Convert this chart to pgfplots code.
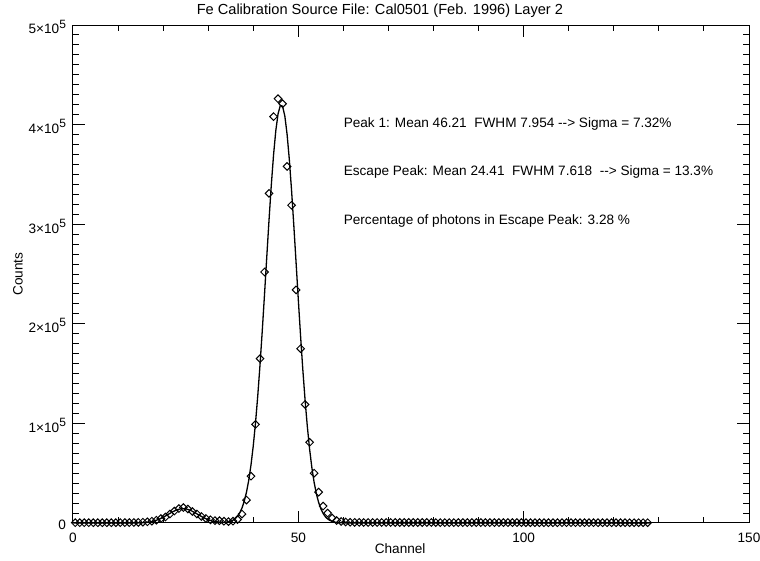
\documentclass[border=0pt]{standalone}
\usepackage{fontspec}
\setmainfont{Liberation Sans}
\usepackage{pgfplots}
\usepackage{pgfplotstable}
\pgfplotsset{compat=1.18}
\newcommand{\ef}[1]{#1×10\raisebox{0.8ex}{\fontsize{6pt}{6pt}\selectfont 5}}
\pgfplotstableread{
x y
0.5 300
1.5 300
2.5 300
3.5 300
4.5 300
5.5 300
6.5 300
7.5 300
8.5 300
9.5 300
10.5 400
11.5 400
12.5 400
13.5 500
14.5 600
15.5 800
16.5 1200
17.5 1800
18.5 2800
19.5 4500
20.5 6000
21.5 9000
22.5 12000
23.5 14500
24.5 15500
25.5 14000
26.5 11500
27.5 9000
28.5 6500
29.5 4500
30.5 3200
31.5 2400
32.5 2300
33.5 1800
34.5 1400
35.5 1800
36.5 3500
37.5 9000
38.5 23000
39.5 47000
40.5 99000
41.5 165000
42.5 252000
43.5 331000
44.5 408000
45.5 426000
46.5 421000
47.5 358000
48.5 319000
49.5 234000
50.5 175000
51.5 119000
52.5 81000
53.5 50000
54.5 31000
55.5 17000
56.5 10000
57.5 5000
58.5 2500
59.5 1500
60.5 1000
61.5 700
62.5 600
63.5 600
64.5 500
65.5 500
66.5 500
67.5 500
68.5 500
69.5 500
70.5 500
71.5 500
72.5 500
73.5 500
74.5 500
75.5 500
76.5 500
77.5 500
78.5 500
79.5 500
80.5 400
81.5 400
82.5 400
83.5 400
84.5 400
85.5 400
86.5 400
87.5 400
88.5 400
89.5 400
90.5 400
91.5 400
92.5 400
93.5 400
94.5 400
95.5 400
96.5 400
97.5 400
98.5 400
99.5 400
100.5 300
101.5 300
102.5 300
103.5 300
104.5 300
105.5 300
106.5 300
107.5 300
108.5 300
109.5 300
110.5 300
111.5 300
112.5 300
113.5 300
114.5 300
115.5 300
116.5 300
117.5 300
118.5 300
119.5 300
120.5 300
121.5 300
122.5 300
123.5 300
124.5 300
125.5 300
126.5 300
127.5 300
}\datapts
\pgfplotstableread{
x y
0 0
12 0
13 40
14 80
15 210
16 490
17 1050
18 2040
19 3580
20 5730
21 8320
22 10990
23 13190
24 14380
25 14260
26 12850
27 10520
28 7830
29 5300
30 3260
31 1820
32 1000
33 630
34 780
35 1770
35.5 2800
36 4400
36.5 6740
37 10200
37.5 15100
38 21900
38.5 31000
39 43000
39.5 58400
40 77500
40.5 100600
41 127900
41.5 158900
42 193200
42.5 229800
43 267400
43.5 304500
44 339100
44.5 369500
45 393900
45.5 410800
46 419200
46.5 418500
47 408700
47.5 390500
48 365000
48.5 333800
49 298600
49.5 261400
50 223900
50.5 187500
51 153700
51.5 123200
52 96700
52.5 74200
53 55700
53.5 40900
54 29400
54.5 20700
55 14200
55.5 9600
56 6300
56.5 4060
57 2600
58 950
59 300
60 100
62 0
128 0
}\fitcurve
\begin{document}
\begin{tikzpicture}
\begin{axis}[
  scale only axis, width=338pt, height=249pt,
  xmin=0, xmax=150, ymin=0, ymax=500000,
  clip=false,
  xtick={0,50,100,150}, xticklabels={0,50,100,150},
  minor x tick num=4,
  ytick={0,100000,200000,300000,400000,500000},
  yticklabels={0,\ef{1},\ef{2},\ef{3},\ef{4},\ef{5}},
  minor y tick num=9,
  scaled y ticks=false,
  major tick length=6pt, minor tick length=3pt,
  tick style={black, line width=0.5pt},
  axis line style={line width=0.5pt},
  font=\fontsize{6.8pt}{8pt}\selectfont,
  xticklabel style={anchor=center, yshift=-7.5pt},
  yticklabel style={yshift=-1pt},
  every axis title shift=0pt,
  title={Fe Calibration Source File: Cal0501 (Feb. 1996) Layer 2},
  title style={at={(axis description cs:0.454,1.0281)}, anchor=center, inner sep=0pt, font=\fontsize{7.3pt}{8.5pt}\selectfont},
  xlabel={Channel},
  xlabel style={at={(axis description cs:0.484,-0.0522)}, anchor=center, inner sep=0pt},
  ylabel={Counts},
  ylabel style={at={(axis description cs:-0.0814,0.5)}, anchor=center, inner sep=0pt},
]
\addplot[black, line width=0.65pt, mark=none] table[x=x,y=y] {\fitcurve};
\addplot[only marks, mark=square, mark size=1.35pt, mark options={rotate=45, solid, black, line width=0.5pt}] table[x=x,y=y] {\datapts};
\node[anchor=west, inner sep=0pt] at (axis cs:60,401000) {Peak 1: Mean 46.21\ \ FWHM 7.954 -{}-> Sigma = 7.32\%};
\node[anchor=west, inner sep=0pt] at (axis cs:60,352000) {Escape Peak: Mean 24.41\ \ FWHM 7.618\ \ -{}-> Sigma = 13.3\%};
\node[anchor=west, inner sep=0pt] at (axis cs:60,303000) {Percentage of photons in Escape Peak: 3.28 \%};
\end{axis}
\pgfresetboundingbox
\path ([shift={(-36.5pt,-19pt)}]current axis.south west) rectangle ([shift={(5.5pt,12.5pt)}]current axis.north east);
\end{tikzpicture}
\end{document}
